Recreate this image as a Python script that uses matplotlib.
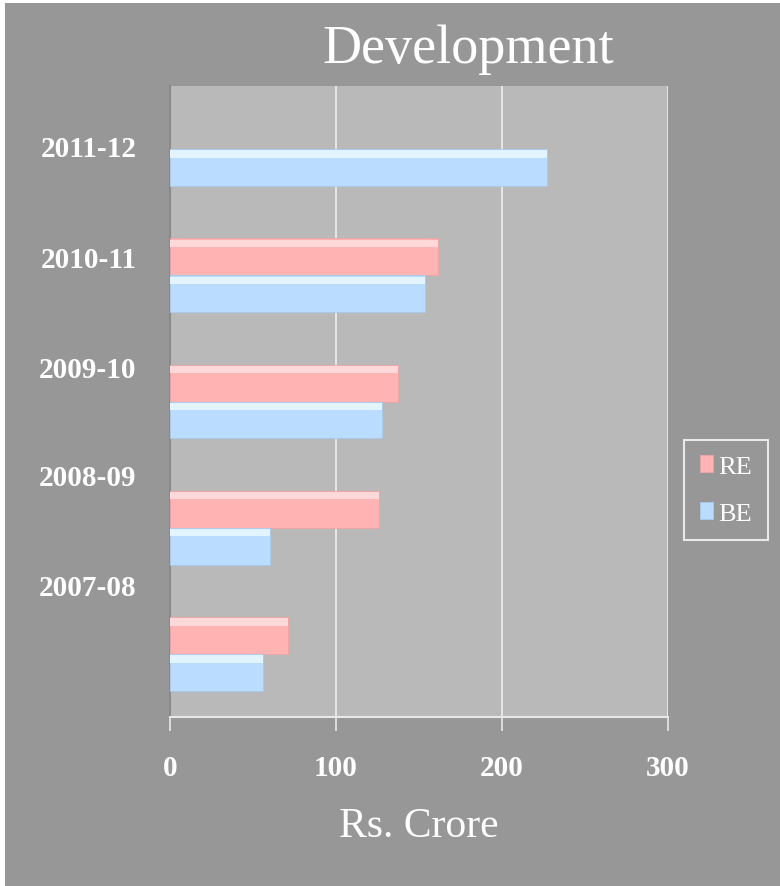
import matplotlib
matplotlib.use("Agg")
import matplotlib.pyplot as plt
import numpy as np
from matplotlib.patches import Rectangle

years = ["2007-08", "2008-09", "2009-10", "2010-11", "2011-12"]
re_vals = [70.9, 126.1, 137.2, 161.6, np.nan]
be_vals = [56.2, 60.2, 127.9, 153.6, 226.9]
x_ticks = [0, 100, 200, 300]
label_pos = [0.55, 1.42, 2.28, 3.15, 4.03]

BG = "#979797"
PLOT_BG = "#b9b9b9"
RE_C = "#ffb3b3"
BE_C = "#badcff"
serif = ["Liberation Serif", "DejaVu Serif"]

fig = plt.figure(figsize=(7.8, 8.87), dpi=100, facecolor=BG)
fig.patches.append(Rectangle((0, 0), 5 / 780, 1, transform=fig.transFigure,
                             facecolor="white", edgecolor="none", zorder=-10))
fig.patches.append(Rectangle((0, 1 - 4 / 887), 1, 4 / 887, transform=fig.transFigure,
                             facecolor="white", edgecolor="none", zorder=-10))
ax = fig.add_axes([170 / 780, 1 - 718 / 887, (668 - 170) / 780, (718 - 87) / 887])
ax.set_facecolor(PLOT_BG)

y = np.arange(len(years))
h = 0.293
ax.barh(y + h / 2, re_vals, height=h, color=RE_C, edgecolor="#eea5a5", linewidth=0.6,
        label="RE", zorder=3)
ax.barh(y - h / 2, be_vals, height=h, color=BE_C, edgecolor="#a9cbef", linewidth=0.6,
        label="BE", zorder=3)
# soft highlight along the top edge of each bar
hb = h * 0.2
ax.barh(y + h - hb / 2 - 0.01, re_vals, height=hb, color="#ffd9d9", linewidth=0, zorder=4)
ax.barh(y - hb / 2 - 0.01, be_vals, height=hb, color="#e2f5ff", linewidth=0, zorder=4)

ax.set_xlim(0, 300)
ax.set_ylim(-0.5, 4.5)
ax.set_xticks(x_ticks)
ax.set_xticklabels([str(v) for v in x_ticks], fontsize=21, fontweight="bold",
                   color="white", family=serif)
ax.set_yticks(label_pos)
ax.set_yticklabels(years, fontsize=21, fontweight="bold", color="white", family=serif)
ax.tick_params(axis="y", length=0, pad=24)
ax.tick_params(axis="x", length=10, color="#e8e8e8", width=1.2, pad=17)
ax.grid(axis="x", color="#eeeeee", linewidth=1.2, zorder=1)
ax.set_axisbelow(True)

for s in ["top", "right"]:
    ax.spines[s].set_visible(False)
ax.spines["left"].set_color("#8a8a8a")
ax.spines["left"].set_linewidth(1.5)
ax.spines["bottom"].set_color("#e8e8e8")
ax.spines["bottom"].set_linewidth(1.5)

ax.set_xlabel("Rs. Crore", fontsize=30, color="white", family=serif, labelpad=18)
fig.text(468 / 780, 1 - 50 / 887, "Development", fontsize=39, color="white",
         family=serif, ha="center", va="center")

leg = fig.legend(loc="center", bbox_to_anchor=(726 / 780, 1 - 491 / 887),
                 prop={"family": serif, "size": 19}, frameon=True, handlelength=0.5,
                 handleheight=0.6, handletextpad=0.2, labelspacing=0.9,
                 borderpad=0.6, fancybox=False, labelcolor="white")
leg.get_frame().set_facecolor(BG)
leg.get_frame().set_edgecolor("white")
leg.get_frame().set_linewidth(1.5)

fig.savefig("out.png", dpi=100, facecolor=fig.get_facecolor())
